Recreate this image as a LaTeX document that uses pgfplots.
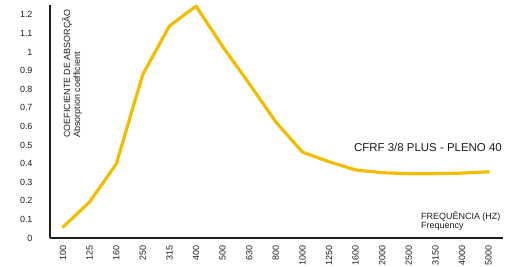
\documentclass[border=0pt]{standalone}
\usepackage{pgfplots}
\pgfplotsset{compat=1.18}
\usepackage{fontspec}
\setmainfont{Liberation Sans}
\definecolor{gold}{RGB}{242,189,0}
\definecolor{axgray}{RGB}{30,30,30}
\begin{document}
\begin{tikzpicture}
\begin{axis}[name=ax, scale only axis, width=453bp, height=233bp,
  xmin=-0.49, xmax=16.54, ymin=0, ymax=1.253,
  axis x line=bottom, axis y line=left,
  axis line style={-, line width=1.6bp, color=axgray},
  xtick={0,...,16},
  xticklabels={100,125,160,250,315,400,500,630,800,1000,1250,1600,2000,2500,3150,4000,5000},
  ytick={0,0.1,0.2,0.3,0.4,0.5,0.6,0.7,0.8,0.9,1,1.1,1.2},
  yticklabels={0,0.1,0.2,0.3,0.4,0.5,0.6,0.7,0.8,0.9,1,1.1,1.2},
  major tick length=0pt,
  tick label style={font=\fontsize{9}{10}\selectfont, text=axgray},
  xticklabel style={rotate=90, anchor=east, xshift=2bp},
  xticklabel shift=6bp,
  yticklabel shift=14bp,
  clip=false,
]
\addplot[color=gold, line width=3.2bp, line join=round, line cap=round] coordinates {
(0,0.059) (1,0.194) (2,0.398) (3,0.88) (4,1.14) (5,1.247) (6,1.03) (7,0.83)
(8,0.624) (9,0.462) (10,0.41) (11,0.366) (12,0.351) (13,0.346) (14,0.346)
(15,0.349) (16,0.356)};
\end{axis}
\node[rotate=90, anchor=north west, inner sep=0pt, align=left,
  font=\fontsize{9}{10}\selectfont, text=axgray]
  at ([shift={(12bp,100bp)}]ax.south west) {COEFICIENTE DE ABSORÇÃO\\Absorption coefficient};
\node[anchor=east, inner sep=0pt, font=\fontsize{11.5}{13}\selectfont, text=axgray]
  at ([shift={(452bp,91bp)}]ax.south west) {CFRF 3/8 PLUS - PLENO 40};
\node[anchor=base west, inner sep=0pt, font=\fontsize{9}{10}\selectfont, text=axgray]
  at ([shift={(371bp,19bp)}]ax.south west) {FREQUÊNCIA (HZ)};
\node[anchor=base west, inner sep=0pt, font=\fontsize{9}{10}\selectfont, text=axgray]
  at ([shift={(371bp,9.5bp)}]ax.south west) {Frequency};
\pgfresetboundingbox
\path ([shift={(-50bp,-29bp)}]ax.south west) rectangle ([shift={(6bp,5bp)}]ax.north east);
\end{tikzpicture}
\end{document}
